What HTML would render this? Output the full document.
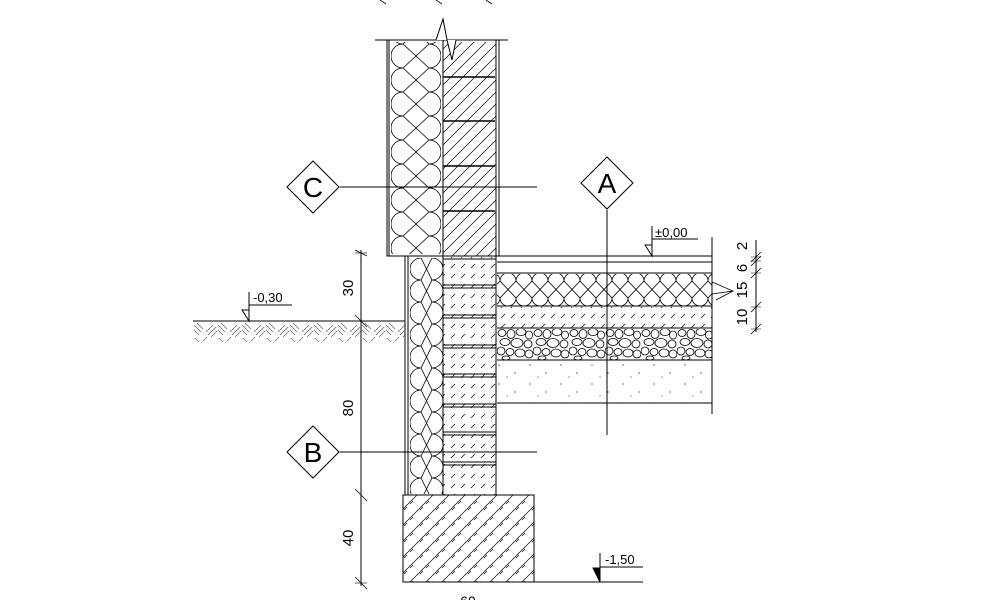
<!DOCTYPE html>
<html><head><meta charset="utf-8"><style>
html,body{margin:0;padding:0;background:#fff;}
svg{display:block;}
text{font-family:"Liberation Sans",sans-serif;fill:#000;}
</style></head><body>
<svg width="1000" height="600" viewBox="0 0 1000 600" xmlns="http://www.w3.org/2000/svg">
<defs>
<pattern id="insU" patternUnits="userSpaceOnUse" x="391" y="44" width="50" height="24">
<path d="M12,0 A12,12 0 0 0 12,24 M38,0 A12,12 0 0 1 38,24 M12,0 L38,24 M12,24 L38,0" fill="none" stroke="#000" stroke-width="0.8"/>
</pattern>
<pattern id="insL" patternUnits="userSpaceOnUse" x="410" y="258" width="33" height="22">
<path d="M11,0 A11,11 0 0 0 11,22 M22,0 A11,11 0 0 1 22,22 M11,0 L22,22 M11,22 L22,0" fill="none" stroke="#000" stroke-width="0.8"/>
</pattern>
<pattern id="insF" patternUnits="userSpaceOnUse" x="500" y="273" width="16" height="33">
<path d="M0,8 A8,8 0 0 1 16,8 M0,25 A8,8 0 0 0 16,25 M0,8 L16,25 M0,25 L16,8" fill="none" stroke="#000" stroke-width="0.8"/>
</pattern>
<pattern id="hatch" patternUnits="userSpaceOnUse" width="12" height="12">
<path d="M0,12 L12,0 M-3,3 L3,-3 M9,15 L15,9" stroke="#000" stroke-width="0.7"/>
</pattern>
<pattern id="dhatch" patternUnits="userSpaceOnUse" width="10" height="10">
<path d="M1,8 L5,4" stroke="#000" stroke-width="0.7"/>
</pattern>
<pattern id="foot" patternUnits="userSpaceOnUse" width="16" height="16">
<path d="M0,16 L16,0 M-4,4 L4,-4 M12,20 L20,12 M4,14 L7,11 M10,8 L13,5" stroke="#000" stroke-width="0.7"/>
</pattern>
<pattern id="soil" patternUnits="userSpaceOnUse" x="193" y="322" width="24" height="20">
<path d="M1,3 L8,10 M1,8 L6,13 M4,1 L10,7 M13,10 L20,3 M15,13 L23,5 M18,15 L24,9 M2,16 L6,20 M10,19 L14,15" stroke="#555" stroke-width="0.6"/>
</pattern>
<pattern id="grav" patternUnits="userSpaceOnUse" x="497" y="328" width="36" height="32">
<g fill="none" stroke="#000" stroke-width="0.8">
<ellipse cx="5" cy="5" rx="4" ry="3.5"/><ellipse cx="14" cy="6" rx="4" ry="4.5"/><ellipse cx="24" cy="4" rx="5" ry="3.5"/><ellipse cx="32" cy="7" rx="3.5" ry="4"/>
<ellipse cx="8" cy="14" rx="5" ry="3.5"/><ellipse cx="20" cy="15" rx="6" ry="4.5"/><ellipse cx="31" cy="16" rx="4" ry="4"/>
<ellipse cx="4" cy="23" rx="4" ry="4"/><ellipse cx="13" cy="24" rx="4" ry="3.5"/><ellipse cx="23" cy="25" rx="5" ry="4"/><ellipse cx="32" cy="26" rx="4" ry="4"/>
<ellipse cx="9" cy="30" rx="4" ry="2"/>
</g></pattern>
<pattern id="conc" patternUnits="userSpaceOnUse" width="31" height="19">
<circle cx="3" cy="4" r="0.6"/><circle cx="19" cy="12" r="0.6"/><circle cx="11" cy="16" r="0.5"/>
</pattern>
</defs>
<g stroke="#000" fill="none" stroke-width="1">
<line x1="375" y1="40" x2="508" y2="40"/>
<rect x="387" y="40" width="112" height="216"/>
<line x1="389" y1="40" x2="389" y2="256"/><line x1="496" y1="40" x2="496" y2="256"/>
<rect x="391" y="42" width="50" height="212" fill="url(#insU)" stroke="none"/>
<line x1="443" y1="40" x2="443" y2="256"/>
<rect x="443" y="42" width="53" height="214" fill="url(#hatch)" stroke="none"/>
<g stroke-width="1.5"><line x1="443" y1="77" x2="495" y2="77"/><line x1="443" y1="121" x2="495" y2="121"/><line x1="443" y1="166" x2="495" y2="166"/><line x1="443" y1="211" x2="495" y2="211"/></g>
<path d="M436,40 L443,19 L447,40 L452,60 L456,40" fill="#fff"/>
<line x1="405" y1="256" x2="405" y2="495"/><line x1="408" y1="256" x2="408" y2="495"/>
<rect x="410" y="258" width="33" height="236" fill="url(#insL)" stroke="none"/>
<line x1="443" y1="256" x2="443" y2="495"/><line x1="496" y1="256" x2="496" y2="495"/>
<rect x="443" y="257" width="53" height="238" fill="url(#dhatch)" stroke="none"/>
<g stroke-width="0.9">
<line x1="443" y1="259" x2="496" y2="259"/>
<line x1="443" y1="285" x2="496" y2="285"/><line x1="443" y1="288" x2="496" y2="288"/>
<line x1="443" y1="315" x2="496" y2="315"/><line x1="443" y1="318" x2="496" y2="318"/>
<line x1="443" y1="345" x2="496" y2="345"/><line x1="443" y1="348" x2="496" y2="348"/>
<line x1="443" y1="374" x2="496" y2="374"/><line x1="443" y1="377" x2="496" y2="377"/>
<line x1="443" y1="404" x2="496" y2="404"/><line x1="443" y1="407" x2="496" y2="407"/>
<line x1="443" y1="432" x2="496" y2="432"/><line x1="443" y1="435" x2="496" y2="435"/>
<line x1="443" y1="462" x2="496" y2="462"/><line x1="443" y1="465" x2="496" y2="465"/>
</g>
<rect x="403" y="495" width="131" height="87" fill="url(#foot)"/>
<line x1="193" y1="321" x2="405" y2="321"/>
<rect x="193" y="322" width="212" height="20" fill="url(#soil)" stroke="none"/>
<line x1="497" y1="256" x2="712" y2="256"/>
<line x1="497" y1="262" x2="712" y2="262"/>
<line x1="497" y1="273" x2="712" y2="273"/>
<rect x="497" y="274" width="215" height="32" fill="url(#insF)" stroke="none"/>
<line x1="497" y1="306" x2="712" y2="306"/>
<rect x="497" y="307" width="215" height="21" fill="url(#dhatch)" stroke="none"/>
<line x1="497" y1="328" x2="712" y2="328"/>
<rect x="497" y="329" width="215" height="31" fill="url(#grav)" stroke="none"/>
<line x1="497" y1="360" x2="712" y2="360"/>
<rect x="497" y="361" width="215" height="42" fill="url(#conc)" stroke="none"/>
<line x1="497" y1="403" x2="712" y2="403"/>
<line x1="712" y1="237" x2="712" y2="414"/>
<path d="M712,282 L733,291 L712,294 M716,300 L733,291" stroke-width="0.8"/>
<line x1="340" y1="187" x2="537" y2="187"/>
<line x1="340" y1="452" x2="537" y2="452"/>
<line x1="607" y1="210" x2="607" y2="435"/>
<path d="M313,161 L339,187 L313,213 L287,187 Z" fill="#fff"/>
<path d="M313,426 L339,452 L313,478 L287,452 Z" fill="#fff"/>
<path d="M607,157 L633,183 L607,209 L581,183 Z" fill="#fff"/>
<line x1="361" y1="250" x2="361" y2="586"/>
<path d="M355,250 L367,256 M355,315 L367,327 M355,489 L367,501 M355,577 L367,589" stroke-width="0.8"/>
<line x1="355" y1="253" x2="367" y2="253" stroke-width="0.6"/>
<line x1="355" y1="583" x2="367" y2="583" stroke-width="0.6"/>
<line x1="756" y1="240" x2="756" y2="332"/>
<path d="M751,262 L761,252 M751,266 L761,256 M751,278 L761,268 M751,312 L761,302 M751,334 L761,324" stroke-width="0.8"/>
<path d="M751,257 L761,257 M751,261 L761,261 M751,273 L761,273 M751,307 L761,307 M751,329 L761,329" stroke-width="0.6"/>
<line x1="652" y1="226" x2="652" y2="256"/><line x1="652" y1="239" x2="698" y2="239"/>
<path d="M645,245 L652,256 L652,245 Z"/>
<line x1="249" y1="292" x2="249" y2="321"/><line x1="249" y1="305" x2="292" y2="305"/>
<path d="M242,310 L249,321 L249,310 Z"/>
<line x1="600" y1="553" x2="600" y2="582"/><line x1="600" y1="567" x2="643" y2="567"/>
<path d="M593,568 L600,582 L600,568 Z" fill="#000"/>
<line x1="534" y1="582" x2="643" y2="582"/>
<path d="M380,0 L386,4 M436,0 L442,4 M486,0 L492,4" stroke-width="0.8"/>
</g>
<text x="313" y="197" font-size="28" text-anchor="middle">C</text>
<text x="313" y="462" font-size="28" text-anchor="middle">B</text>
<text x="607" y="193" font-size="28" text-anchor="middle">A</text>
<text x="655" y="237" font-size="13">±0,00</text>
<text x="253" y="302" font-size="13">-0,30</text>
<text x="605" y="564" font-size="13">-1,50</text>
<text x="468" y="606" font-size="14" text-anchor="middle">60</text>
<g font-size="15">
<text transform="translate(353,288) rotate(-90)" text-anchor="middle">30</text>
<text transform="translate(353,408) rotate(-90)" text-anchor="middle">80</text>
<text transform="translate(353,538) rotate(-90)" text-anchor="middle">40</text>
<text transform="translate(747,246) rotate(-90)" text-anchor="middle">2</text>
<text transform="translate(747,268) rotate(-90)" text-anchor="middle">6</text>
<text transform="translate(747,290) rotate(-90)" text-anchor="middle">15</text>
<text transform="translate(747,317) rotate(-90)" text-anchor="middle">10</text>
</g>
</svg>
</body></html>
